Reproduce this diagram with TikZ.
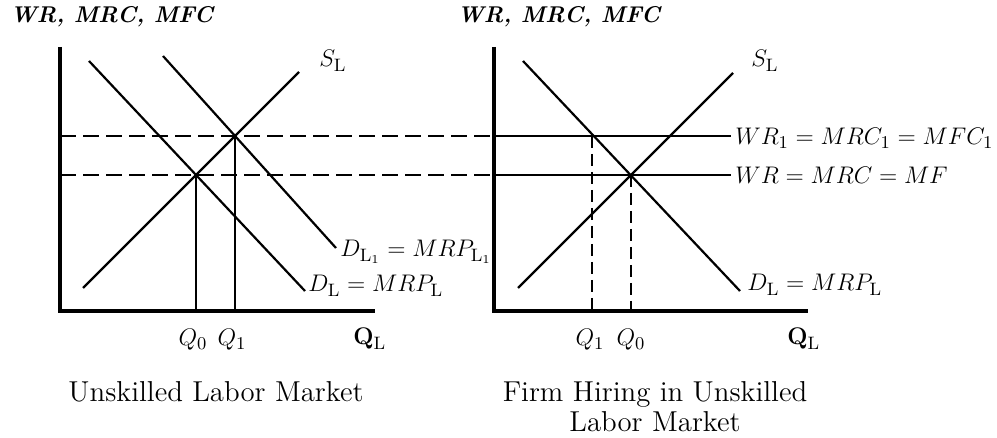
\documentclass[tikz,border=0pt]{standalone}
\usetikzlibrary{positioning}
\begin{document}
\begin{tikzpicture}[
  x=0.5pt, y=-0.5pt,
  axis/.style={line width=1.6pt},
  curve/.style={line width=1.1pt},
  drop/.style={line width=0.8pt},
  guide/.style={line width=0.8pt, dash pattern=on 8pt off 3.5pt},
  vguide/.style={line width=0.8pt, dash pattern=on 6pt off 3pt},
  lbl/.style={inner sep=0pt, font=\fontsize{12.5}{15}\selectfont},
  caption/.style={inner sep=0pt, font=\fontsize{14.4}{15}\selectfont},
  ttl/.style={inner sep=0pt, font=\fontsize{11.4}{14}\selectfont\bfseries\itshape}
]
  \useasboundingbox (0,0) rectangle (997,438);

  % left panel: unskilled labor market
  \coordinate (LY) at (60,47);
  \coordinate (LO) at (60,311);
  \coordinate (LX) at (375,311);
  \coordinate (d0a) at (89,61);   \coordinate (d0b) at (305,291);
  \coordinate (d1a) at (163,56);  \coordinate (d1b) at (336,248);
  \coordinate (sLa) at (83,288);  \coordinate (sLb) at (299,72);
  \coordinate (E0) at (196,175);  \coordinate (E1) at (235,136);
  \coordinate (q0L) at (196,311); \coordinate (q1L) at (235,311);

  % right panel: one firm
  \coordinate (RY) at (494,47);
  \coordinate (RO) at (494,311);
  \coordinate (RX) at (808,311);
  \coordinate (dRa) at (523,61);  \coordinate (dRb) at (740,291);
  \coordinate (sRa) at (518,288); \coordinate (sRb) at (733,73);
  \coordinate (w1R) at (494,136); \coordinate (w1E) at (731,136);
  \coordinate (w0R) at (494,175); \coordinate (w0E) at (731,175);
  \coordinate (F1) at (592,136);  \coordinate (F0) at (631,175);
  \coordinate (q1R) at (592,311); \coordinate (q0R) at (631,311);

  % axes
  \draw[axis] (LY) -- (LO) -- (LX);
  \draw[axis] (RY) -- (RO) -- (RX);

  % curves
  \draw[curve] (d0a) -- (d0b);
  \draw[curve] (d1a) -- (d1b);
  \draw[curve] (sLa) -- (sLb);
  \draw[curve] (dRa) -- (dRb);
  \draw[curve] (sRa) -- (sRb);
  \draw[curve] (w1R) -- (w1E);
  \draw[curve] (w0R) -- (w0E);

  % wage guides across both panels
  \draw[guide] (60,136) -- (w1R);
  \draw[guide] (60,175) -- (w0R);
  \draw[drop] (E0) -- (q0L);
  \draw[drop] (E1) -- (q1L);
  \draw[vguide] (F1) -- (q1R);
  \draw[vguide] (F0) -- (q0R);

  % titles
  \node[ttl, anchor=west] (ttlL) at (10,17) {WR, MRC, MFC};
  \node[ttl, anchor=west] (ttlR) at (457,17) {WR, MRC, MFC};

  % curve labels
  \node[lbl, anchor=base west] (sLlbl) at (319,67) {$S_{\mathrm{L}}$};
  \node[lbl, anchor=base west] (d1lbl) at (340,257) {$D_{\mathrm{L}_1} = MRP_{\mathrm{L}_1}$};
  \node[lbl, anchor=base west] (d0lbl) at (308,292) {$D_{\mathrm{L}} = MRP_{\mathrm{L}}$};
  \node[lbl, anchor=base west] (sRlbl) at (751,67) {$S_{\mathrm{L}}$};
  \node[lbl, anchor=base west] (w1lbl) at (735,145) {$WR_1 = MRC_1 = MFC_1$};
  \node[lbl, anchor=base west] (w0lbl) at (735,184) {$WR = MRC = MF$};
  \node[lbl, anchor=base west] (dRlbl) at (747,291) {$D_{\mathrm{L}} = MRP_{\mathrm{L}}$};

  % axis labels
  \node[lbl, anchor=base] (q0Llbl) at (193,346) {$Q_0$};
  \node[lbl, anchor=base] (q1Llbl) at (232,346) {$Q_1$};
  \node[lbl, anchor=base west] (xLlbl) at (353,345) {$\mathbf{Q}_{\mathrm{L}}$};
  \node[lbl, anchor=base] (q1Rlbl) at (590,346) {$Q_1$};
  \node[lbl, anchor=base] (q0Rlbl) at (631,346) {$Q_0$};
  \node[lbl, anchor=base west] (xRlbl) at (787,345) {$\mathbf{Q}_{\mathrm{L}}$};

  % captions
  \node[caption, anchor=base] (capL) at (216,402) {Unskilled Labor Market};
  \node[caption, anchor=base] (capR) at (655,402) {Firm Hiring in Unskilled};
  \node[caption, anchor=base] (capR2) at (655,432) {Labor Market};
\end{tikzpicture}
\end{document}
